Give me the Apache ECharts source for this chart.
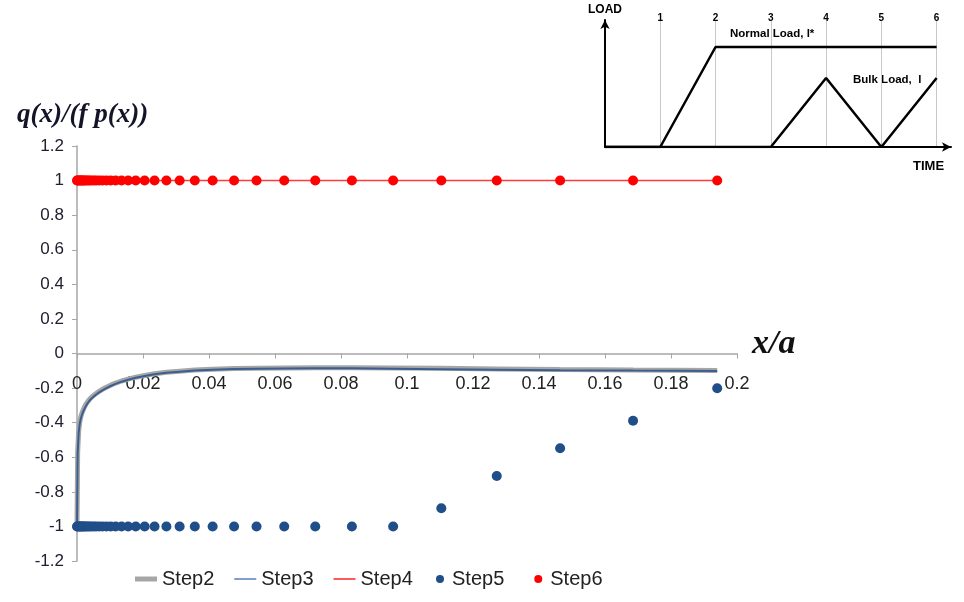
<!DOCTYPE html>
<html><head><meta charset="utf-8">
<script src="https://cdn.jsdelivr.net/npm/echarts@6/dist/echarts.min.js"></script>
<style>html,body{margin:0;padding:0;background:#fff}#c{width:964px;height:602px}</style>
</head><body><div id="c"></div>
<script>
// ---- main chart data ----
const xMesh = [0, 0.0002, 0.0005, 0.0008, 0.0011, 0.0014, 0.0017, 0.0020, 0.0024, 0.0028,
  0.0033, 0.0038, 0.0044, 0.0051, 0.0058, 0.0067, 0.0077, 0.0089, 0.0102, 0.0117,
  0.0135, 0.0155, 0.0178, 0.0205, 0.0235, 0.0271, 0.0311, 0.0357, 0.0411, 0.0476,
  0.0544, 0.0628, 0.0722, 0.0833, 0.0958, 0.1104, 0.1272, 0.1464, 0.1685, 0.1940];
const step2 = [-1, -0.57, -0.45, -0.40, -0.37, -0.35, -0.335, -0.32, -0.305, -0.29,
  -0.277, -0.265, -0.253, -0.241, -0.231, -0.219, -0.207, -0.195, -0.183, -0.171,
  -0.159, -0.148, -0.137, -0.127, -0.117, -0.109, -0.102, -0.096, -0.091, -0.087,
  -0.085, -0.084, -0.083, -0.083, -0.084, -0.086, -0.089, -0.093, -0.096, -0.099];
const step3 = [-1, -0.58, -0.46, -0.41, -0.38, -0.36, -0.345, -0.33, -0.315, -0.30,
  -0.285, -0.272, -0.26, -0.248, -0.237, -0.225, -0.213, -0.20, -0.188, -0.176,
  -0.163, -0.152, -0.14, -0.13, -0.12, -0.112, -0.105, -0.099, -0.094, -0.09,
  -0.088, -0.087, -0.086, -0.086, -0.088, -0.091, -0.094, -0.097, -0.099, -0.101];
const step4 = [1, 1, 1, 1, 1, 1, 1, 1, 1, 1, 1, 1, 1, 1, 1, 1, 1, 1, 1, 1,
  1, 1, 1, 1, 1, 1, 1, 1, 1, 1, 1, 1, 1, 1, 1, 1, 1, 1, 1, 1];
const step5 = [-1, -1, -1, -1, -1, -1, -1, -1, -1, -1, -1, -1, -1, -1, -1, -1, -1, -1, -1, -1,
  -1, -1, -1, -1, -1, -1, -1, -1, -1, -1, -1, -1, -1, -1, -1, -0.895, -0.708, -0.548, -0.389, -0.201];
const step6 = [1, 1, 1, 1, 1, 1, 1, 1, 1, 1, 1, 1, 1, 1, 1, 1, 1, 1, 1, 1,
  1, 1, 1, 1, 1, 1, 1, 1, 1, 1, 1, 1, 1, 1, 1, 1, 1, 1, 1, 1];
const seriesNames = ['Step2', 'Step3', 'Step4', 'Step5', 'Step6'];

// ---- inset (load history) data ----
const normalTime = [0, 1, 2, 6];
const normalLoad = [0, 0, 1, 1];
const bulkTime = [0, 3, 4, 5, 6];
const bulkLoad = [0, 0, 0.69, 0, 0.69];
const timeTicks = ['1', '2', '3', '4', '5', '6'];

const pairs = (xs, ys) => xs.map((x, i) => [x, ys[i]]);
const chart = echarts.init(document.getElementById('c'), null, {renderer: 'canvas'});
const sans = 'Liberation Sans';
const serif = 'Liberation Serif';
const axisGray = '#a6a6a6';
const gridTop = 146, gridBottom = 41, plotH = 602 - gridTop - gridBottom;
const yMin = -1.2, yMax = 1.2;
// x axis sits at y = 0 : shift it up from the grid bottom by the scale fraction
const zeroOffset = -plotH * (0 - yMin) / (yMax - yMin);

const lineIcon = 'path://M0,0M22,12M0,5H22V7H0Z';
const dotIcon = 'path://M0,0M14,12M3,6A4,4,0,1,1,11,6A4,4,0,1,1,3,6Z';

chart.setOption({
  animation: false,
  backgroundColor: '#fff',
  title: {
    left: 12, top: 97,
    text: '{a|q(x)/(}{b|f}{a| p(x))}',
    textStyle: {
      rich: {
        a: {fontFamily: serif, fontStyle: 'italic', fontSize: 27, color: '#141428'},
        b: {fontFamily: serif, fontStyle: 'italic', fontWeight: 'bold', fontSize: 27, color: '#141428'}
      }
    }
  },
  legend: [
    {
      left: 130, top: 564,
      itemWidth: 22, itemHeight: 12, itemGap: 20,
      textStyle: {fontFamily: sans, fontSize: 20, color: '#222'},
      data: [
        {name: seriesNames[0], icon: 'path://M0,0M22,12M0,3.5H22V8.5H0Z', itemStyle: {color: '#a6a6a6', borderWidth: 0}},
        {name: seriesNames[1], icon: lineIcon, itemStyle: {color: '#7f9fcf', borderWidth: 0}},
        {name: seriesNames[2], icon: lineIcon, itemStyle: {color: '#ff5a5a', borderWidth: 0}}
      ]
    },
    {
      left: 428, top: 564,
      itemWidth: 14, itemHeight: 12, itemGap: 27,
      textStyle: {fontFamily: sans, fontSize: 20, color: '#222'},
      data: [
        {name: seriesNames[3], icon: dotIcon, itemStyle: {color: '#1f4e89', borderWidth: 0}},
        {name: seriesNames[4], icon: dotIcon, itemStyle: {color: '#ff0000', borderWidth: 0}}
      ]
    }
  ],
  grid: [
    {left: 77, right: 227, top: gridTop, bottom: gridBottom, outerBoundsMode: 'none'},
    {left: 605, top: 20, width: 346, height: 127, outerBoundsMode: 'none'}
  ],
  xAxis: [
    {
      type: 'value', gridIndex: 0, min: 0, max: 0.2, interval: 0.02,
      position: 'bottom', offset: zeroOffset,
      axisLine: {show: true, onZero: false, lineStyle: {color: axisGray, width: 1.5}},
      axisTick: {show: true, length: 5, lineStyle: {color: axisGray, width: 1}},
      axisLabel: {margin: 22, fontSize: 18, fontFamily: sans, color: '#222'},
      splitLine: {show: false},
      name: 'x/a', nameLocation: 'end', nameGap: 15,
      nameTextStyle: {fontFamily: serif, fontStyle: 'italic', fontWeight: 'bold', fontSize: 34, color: '#111',
        verticalAlign: 'bottom', lineHeight: 18}
    },
    {
      type: 'value', gridIndex: 1, min: 0, max: 6.26, interval: 1,
      axisLine: {show: true, onZero: false, lineStyle: {color: '#000', width: 2}, symbol: ['none', 'arrow'], symbolSize: [7, 9]},
      axisTick: {show: false}, axisLabel: {show: false}, splitLine: {show: false}
    },
    {
      type: 'value', gridIndex: 1, position: 'top', min: 0, max: 6.26, interval: 1,
      axisLine: {show: false}, axisTick: {show: false},
      axisLabel: {
        show: true, margin: -3, fontSize: 10, fontWeight: 'bold', fontFamily: sans, color: '#000',
        formatter: v => { const k = Math.round(v); return (Math.abs(v - k) < 1e-9 && k >= 1 && k <= 6) ? timeTicks[k - 1] : ''; }
      },
      splitLine: {show: true, showMinLine: false, showMaxLine: false, lineStyle: {color: '#c8c8c8', width: 1}}
    }
  ],
  yAxis: [
    {
      type: 'value', gridIndex: 0, min: yMin, max: yMax, interval: 0.2,
      axisLine: {show: true, lineStyle: {color: axisGray, width: 1.5}},
      axisTick: {show: true, length: 5, lineStyle: {color: axisGray, width: 1}},
      axisLabel: {margin: 13, fontSize: 17, fontFamily: sans, color: '#202030'},
      splitLine: {show: false}
    },
    {
      type: 'value', gridIndex: 1, min: 0, max: 1.27,
      axisLine: {show: true, lineStyle: {color: '#000', width: 2}, symbol: ['none', 'arrow'], symbolSize: [7, 9]},
      axisTick: {show: false}, axisLabel: {show: false}, splitLine: {show: false},
      name: 'LOAD', nameLocation: 'end', nameGap: 4,
      nameTextStyle: {fontFamily: sans, fontSize: 12, fontWeight: 'bold', color: '#000'}
    }
  ],
  series: [
    {name: seriesNames[0], type: 'line', data: pairs(xMesh, step2), symbol: 'none', z: 1,
      lineStyle: {color: '#a6a6a6', width: 5}, itemStyle: {color: '#a6a6a6'}},
    {name: seriesNames[1], type: 'line', data: pairs(xMesh, step3), symbol: 'none', z: 2,
      lineStyle: {color: '#3b5e91', width: 2}, itemStyle: {color: '#3b5e91'}},
    {name: seriesNames[2], type: 'line', data: pairs(xMesh, step4), symbol: 'none', z: 3,
      lineStyle: {color: '#ff3b3b', width: 1.5}, itemStyle: {color: '#ff3b3b'}},
    {name: seriesNames[3], type: 'scatter', data: pairs(xMesh, step5), symbolSize: 10, z: 4,
      itemStyle: {color: '#1f4e89', opacity: 1}},
    {name: seriesNames[4], type: 'scatter', data: pairs(xMesh, step6), symbolSize: 10, z: 5,
      itemStyle: {color: '#ff0000', opacity: 1}},
    {name: 'Normal Load', type: 'line', xAxisIndex: 1, yAxisIndex: 1, data: pairs(normalTime, normalLoad),
      symbol: 'none', silent: true, lineStyle: {color: '#000', width: 2.5}},
    {name: 'Bulk Load', type: 'line', xAxisIndex: 1, yAxisIndex: 1, data: pairs(bulkTime, bulkLoad),
      symbol: 'none', silent: true, lineStyle: {color: '#000', width: 2.5}}
  ],
  graphic: [
    {type: 'text', left: 913, top: 160, style: {text: 'TIME', font: 'bold 13px "Liberation Sans"', fill: '#000'}},
    {type: 'text', left: 730, top: 28, style: {text: 'Normal Load, l*', font: 'bold 11.5px "Liberation Sans"', fill: '#000'}},
    {type: 'text', left: 853, top: 74, style: {text: 'Bulk Load,  l', font: 'bold 11.5px "Liberation Sans"', fill: '#000'}}
  ]
});
</script>
</body></html>
